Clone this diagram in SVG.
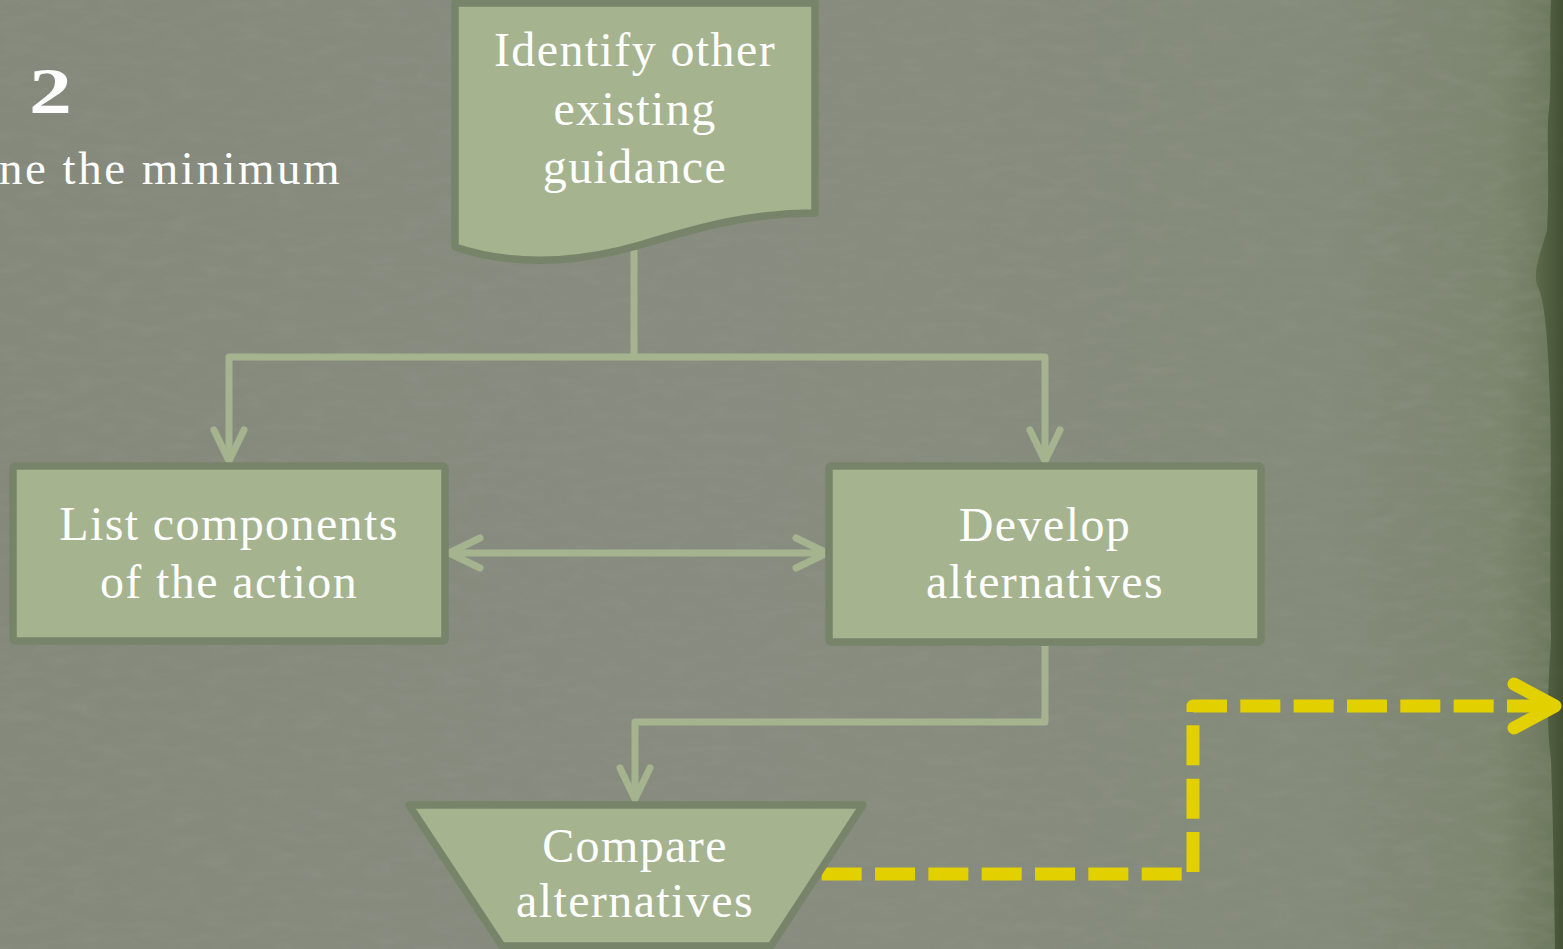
<svg xmlns="http://www.w3.org/2000/svg" width="1563" height="949" viewBox="0 0 1563 949">
<style>
.node{fill:#a5b38f;stroke:#77846a;stroke-width:7.5;stroke-linejoin:round}
.lbl{font-family:"Liberation Serif","Times New Roman",serif;font-size:48px;fill:#ffffff;text-anchor:middle;letter-spacing:1.4px}
.conn{fill:none;stroke:#a5b38f;stroke-width:7;stroke-linejoin:round}
.hi{fill:none;stroke:#e2d000;stroke-width:13;stroke-linejoin:round}
.title{font-family:"Liberation Serif","Times New Roman",serif;fill:#ffffff}
</style>
<defs>
<linearGradient id="bg" x1="0" y1="0" x2="1" y2="0">
<stop offset="0" stop-color="#84897b"/>
<stop offset="0.45" stop-color="#888c80"/>
<stop offset="0.85" stop-color="#848b7a"/>
<stop offset="0.96" stop-color="#7c866f"/>
<stop offset="1" stop-color="#6a7659"/>
</linearGradient>
<linearGradient id="edge" x1="0" y1="0" x2="1" y2="0">
<stop offset="0" stop-color="#5a6646"/>
<stop offset="1" stop-color="#3d4a2e"/>
</linearGradient>
<filter id="noise" x="0" y="0" width="100%" height="100%">
<feTurbulence type="fractalNoise" baseFrequency="0.03 0.09" numOctaves="4" seed="7"/>
<feColorMatrix type="matrix" values="0 0 0 0 0.3  0 0 0 0 0.32  0 0 0 0 0.27  1.0 0 0 0 -0.42"/>
</filter>
<marker id="ga" viewBox="-40 -20 50 40" markerWidth="50" markerHeight="40" refX="0" refY="0" orient="auto-start-reverse" markerUnits="userSpaceOnUse" overflow="visible">
<path d="M-31,-15 L0,0 L-31,15" fill="none" stroke="#a5b38f" stroke-width="7" stroke-linecap="round" stroke-linejoin="round"/>
</marker>
<marker id="ya" viewBox="-50 -30 60 60" markerWidth="60" markerHeight="60" refX="0" refY="0" orient="auto" markerUnits="userSpaceOnUse" overflow="visible">
<path d="M-41,-22 L0,0 L-41,22" fill="none" stroke="#e2d000" stroke-width="13" stroke-linecap="round" stroke-linejoin="round"/>
</marker>
</defs>

<g id="background">
<rect x="0" y="0" width="1563" height="949" fill="url(#bg)"/>
<rect x="0" y="0" width="1563" height="949" filter="url(#noise)" opacity="0.55"/>
<path d="M1563,0 L1551,0 C1549,40 1552,80 1549,110 C1546,130 1550,180 1547,230 C1540,255 1533,270 1537,285 C1545,300 1548,340 1550,400 C1552,480 1549,560 1551,640 C1548,690 1546,720 1551,760 C1553,820 1554,880 1555,949 L1563,949 Z" fill="url(#edge)" opacity="0.85"/>
</g>

<g id="title">
<text class="title" transform="translate(29,113) scale(1.3,1)" font-size="66" font-weight="bold">2</text>
<text class="title" x="-1" y="184" font-size="47" letter-spacing="2.5">ne the minimum</text>
</g>

<g id="connectors">
<path class="conn" d="M634,250 V357 H229 V461" marker-end="url(#ga)"/>
<path class="conn" d="M634,357 H1045 V461" marker-end="url(#ga)"/>
<path class="conn" d="M449,553 H827" marker-start="url(#ga)" marker-end="url(#ga)"/>
<path class="conn" d="M1045,646 V722 H635 V799" marker-end="url(#ga)"/>
<path class="hi" d="M821.7,874 H1193 V706 H1548" stroke-dasharray="40 13.33"/>
<path d="M1548,706 H1555" fill="none" stroke="none" marker-end="url(#ya)"/>
</g>

<g id="node-identify">
<path class="node" d="M455,247 L455,3 L815,3 L815,213 C750,213 700,227 640,245 C560,268 500,262 455,247 Z"/>
<text class="lbl" x="635" y="66">Identify other</text>
<text class="lbl" x="635" y="125">existing</text>
<text class="lbl" x="635" y="183">guidance</text>
</g>

<g id="node-list">
<rect class="node" x="13" y="466" width="432" height="175" rx="2"/>
<text class="lbl" x="229" y="540">List components</text>
<text class="lbl" x="229" y="598">of the action</text>
</g>

<g id="node-develop">
<rect class="node" x="829" y="466" width="432" height="176" rx="2"/>
<text class="lbl" x="1045" y="541">Develop</text>
<text class="lbl" x="1045" y="598">alternatives</text>
</g>

<g id="node-compare">
<polygon class="node" points="409,805 863,805 771,946 502,946"/>
<text class="lbl" x="635" y="862">Compare</text>
<text class="lbl" x="635" y="917">alternatives</text>
</g>
</svg>
